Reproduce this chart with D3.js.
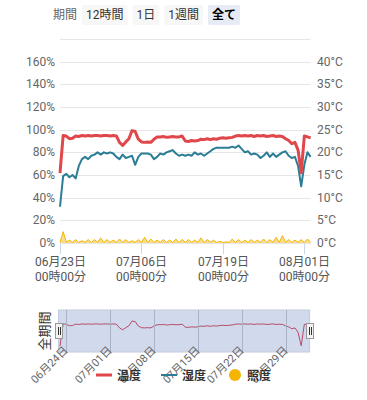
<!DOCTYPE html>
<html><head><meta charset="utf-8">
<script src="https://cdn.jsdelivr.net/npm/d3@7"></script>
<style>
body{margin:0;background:#fff;}
svg{display:block;font-family:Roboto,"Noto Sans CJK JP",sans-serif;}
</style></head><body>
<div id="chart"></div>
<script>
// 12時間ごとの計測値 (06/23 00:00 開始)
const START = Date.UTC(2024, 5, 23);
const STEP_H = 12;
const temp = [15.4,23.7,23.6,23.0,23.1,23.6,23.5,23.7,23.6,23.7,23.6,23.7,23.7,23.6,23.7,23.7,23.6,23.7,23.6,
  22.2,21.5,22.3,23.0,24.8,24.6,22.9,22.3,22.2,22.3,22.2,
  22.9,23.4,23.4,23.5,23.3,23.4,23.5,23.4,23.4,23.6,
  22.5,22.4,22.6,22.5,22.6,22.9,22.8,23.0,22.8,23.0,
  22.9,23.1,23.2,23.1,23.2,23.3,23.6,23.7,23.6,23.7,
  23.6,23.7,23.5,23.7,23.6,23.7,23.5,23.6,23.7,23.5,
  23.6,23.5,23.0,22.6,21.9,22.2,20.5,15.5,23.6,23.4,23.2];
const humid = [32,59,61,58,60,57,68,74,76,74,
  77,78,80,78,80,79,80,79,76,74,
  78,75,76,77,69,76,79,79,79,78,
  74,76,79,78,80,81,82,79,77,78,
  77,78,77,80,78,79,77,79,81,83,
  84,84,84,84,84,85,84,86,83,80,
  81,78,79,78,75,77,80,76,79,76,
  78,80,81,77,75,76,68,50,69,80,76];
const lux = [0.5,10,0.8,2.5,0.6,3,0.5,2,0.6,3,0.5,3,0.6,4.5,0.5,3,0.6,2.5,0.5,3.5,
  0.6,3,0.5,2,0.6,3,0.5,5,0.6,3.5,0.5,2.5,0.6,3,0.5,2.5,0.6,3.5,0.5,3,
  0.6,3,0.5,2.5,0.6,4.5,0.5,3,0.6,2.5,0.5,1.5,0.4,1,0.5,3.5,0.6,3,0.5,2.5,
  0.6,3,0.5,2.5,0.6,3.5,0.5,3,0.6,5,0.5,6.5,0.6,3,0.5,2.5,0.6,3,0.5,3.5,0.6];

const leftTicks  = [0, 20, 40, 60, 80, 100, 120, 140, 160];
const rightTicks = [0, 5, 10, 15, 20, 25, 30, 35, 40];
const mainTicks  = ['2024-06-23', '2024-07-06', '2024-07-19', '2024-08-01'];
const navTicks   = ['2024-06-24', '2024-07-01', '2024-07-08', '2024-07-15', '2024-07-22', '2024-07-29'];
const rangeButtons = ['12時間', '1日', '1週間', '全て'];
const seriesNames  = ['温度', '湿度', '照度'];

const C_TEMP = '#e0474b', C_HUM = '#2b7d95', C_LUX = '#f5b400';
const W = 367, H = 400;
const time = i => new Date(START + i * STEP_H * 3600e3);
const parse = d3.utcParse('%Y-%m-%d');

const svg = d3.select('#chart').append('svg').attr('width', W).attr('height', H);

const x  = d3.scaleUtc().domain([time(0), time(80)]).range([60, 310.6]);
const yL = d3.scaleLinear().domain([0, 180]).range([243, 39]);
const yR = d3.scaleLinear().domain([0, 45]).range([243, 39]);

// range selector
svg.append('text').attr('x', 53).attr('y', 19).attr('font-size', 12).attr('fill', '#666').text('期間');
rangeButtons.reduce((bx, lbl, i) => {
  const sel = i === rangeButtons.length - 1;
  const g = svg.append('g');
  const r = g.append('rect').attr('x', bx).attr('y', 5).attr('height', 20).attr('rx', 2)
    .attr('fill', sel ? '#e6ebf5' : '#f7f7f7');
  const t = g.append('text').attr('y', 19).attr('font-size', 12)
    .attr('fill', sel ? '#000' : '#333').attr('font-weight', sel ? 'bold' : 'normal').text(lbl);
  const bw = t.node().getComputedTextLength() + 8;
  r.attr('width', bw);
  t.attr('x', bx + bw / 2).attr('text-anchor', 'middle');
  return bx + bw + 5;
}, 82);

// grid
const [gx0, gx1] = x.range();
yL.ticks(9).forEach(v => {
  svg.append('line').attr('x1', gx0).attr('x2', gx1).attr('y1', Math.round(yL(v)) + .5).attr('y2', Math.round(yL(v)) + .5)
    .attr('stroke', '#e6e6e6');
});
leftTicks.forEach(v => {
  svg.append('text').attr('x', 55).attr('y', yL(v) + 4).attr('text-anchor', 'end')
    .attr('font-size', 12).attr('fill', '#666').text(v + '%');
});
rightTicks.forEach(v => {
  svg.append('text').attr('x', 317).attr('y', yR(v) + 4)
    .attr('font-size', 12).attr('fill', '#666').text(v + '°C');
});

// x axis
const fmtD = d3.utcFormat('%m月%d日'), fmtT = d3.utcFormat('%H時%M分');
mainTicks.map(parse).forEach(d => {
  const tx = Math.round(x(d)) + .5;
  svg.append('line').attr('x1', tx).attr('x2', tx).attr('y1', 244).attr('y2', 254).attr('stroke', '#ccd6eb');
  svg.append('text').attr('x', tx).attr('y', 266).attr('text-anchor', 'middle')
    .attr('font-size', 12).attr('fill', '#555').text(fmtD(d));
  svg.append('text').attr('x', tx).attr('y', 281).attr('text-anchor', 'middle')
    .attr('font-size', 12).attr('fill', '#555').text(fmtT(d));
});

// series
svg.append('path').datum(lux)
  .attr('d', d3.area().x((d, i) => x(time(i))).y0(yL(0)).y1(d => yL(d)))
  .attr('fill', C_LUX).attr('fill-opacity', .45);
svg.append('path').datum(lux)
  .attr('d', d3.line().x((d, i) => x(time(i))).y(d => yL(d)))
  .attr('fill', 'none').attr('stroke', C_LUX).attr('stroke-width', 1);
svg.append('path').datum(humid)
  .attr('d', d3.line().x((d, i) => x(time(i))).y(d => yL(d)))
  .attr('fill', 'none').attr('stroke', C_HUM).attr('stroke-width', 2).attr('stroke-linejoin', 'round');
svg.append('path').datum(temp)
  .attr('d', d3.line().x((d, i) => x(time(i))).y(d => yR(d)))
  .attr('fill', 'none').attr('stroke', C_TEMP).attr('stroke-width', 3).attr('stroke-linejoin', 'round');

// navigator
const nT = 310, nB = 352, nL = gx0 - 1.5, nR = gx1 - 1;
const yN = d3.scaleLinear().domain(d3.extent(temp)).range([346, 321]);
svg.append('path').datum(temp)
  .attr('d', d3.line().x((d, i) => x(time(i))).y(d => yN(d)))
  .attr('fill', 'none').attr('stroke', '#d9343f').attr('stroke-width', 1);
svg.append('rect').attr('x', nL).attr('y', nT).attr('width', nR - nL).attr('height', nB - nT)
  .attr('fill', 'rgba(102,133,194,0.3)').attr('stroke', '#c4cadb');
navTicks.map(parse).forEach(d => {
  const tx = Math.round(x(d)) + .5;
  svg.append('line').attr('x1', tx).attr('x2', tx).attr('y1', nT).attr('y2', nB).attr('stroke', '#aab2c8');
  svg.append('text').attr('transform', `translate(${tx + 2},${nB - 1}) rotate(-45)`)
    .attr('text-anchor', 'end').attr('font-size', 11).attr('fill', '#666').text(fmtD(d));
});
[nL, nR].forEach(hx => {
  svg.append('rect').attr('x', Math.round(hx) - 3.5).attr('y', 323.5).attr('width', 7).attr('height', 15)
    .attr('fill', '#f2f2f2').attr('stroke', '#999');
  [-1, 1].forEach(o => svg.append('line').attr('x1', Math.round(hx) + o + .5).attr('x2', Math.round(hx) + o + .5)
    .attr('y1', 327).attr('y2', 335).attr('stroke', '#333'));
});
svg.append('text').attr('transform', 'translate(49,331) rotate(-90)').attr('text-anchor', 'middle')
  .attr('font-size', 13).attr('fill', '#333').text('全期間');

// legend
const leg = svg.append('g');
const colors = [C_TEMP, C_HUM, C_LUX];
const lineW = [3, 2];
let lx = 0;
seriesNames.forEach((nm, i) => {
  if (i < 2) leg.append('line').attr('x1', lx).attr('x2', lx + 16).attr('y1', 375).attr('y2', 375)
    .attr('stroke', colors[i]).attr('stroke-width', lineW[i]);
  else leg.append('circle').attr('cx', lx + 9).attr('cy', 375).attr('r', 6).attr('fill', colors[i]);
  const t = leg.append('text').attr('x', lx + 21).attr('y', 380).attr('font-size', 12)
    .attr('font-weight', 'bold').attr('fill', '#333').text(nm);
  lx += 21 + t.node().getComputedTextLength() + 20;
});
leg.attr('transform', `translate(${(W - (lx - 20)) / 2},0)`);
</script>
</body></html>
